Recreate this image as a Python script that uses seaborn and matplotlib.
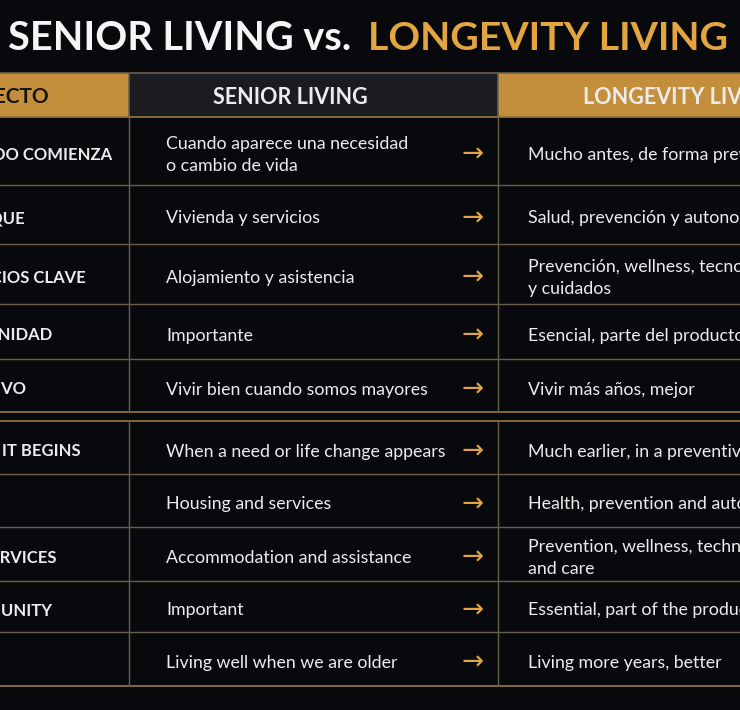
import matplotlib
matplotlib.use("Agg")
import matplotlib.pyplot as plt
from matplotlib.patches import Rectangle
import seaborn as sns

# ---------------- data ----------------
title_left = "SENIOR LIVING vs."
title_right = "LONGEVITY LIVING"
header_aspect = "ASPECTO"
header_senior = "SENIOR LIVING"
header_longevity = "LONGEVITY LIVING"

aspects_es = ["CUANDO COMIENZA", "ENFOQUE", "SERVICIOS CLAVE", "COMUNIDAD", "OBJETIVO"]
senior_es = ["Cuando aparece una necesidad\no cambio de vida", "Vivienda y servicios",
             "Alojamiento y asistencia", "Importante", "Vivir bien cuando somos mayores"]
longevity_es = ["Mucho antes, de forma preventiva", "Salud, prevención y autonomía",
                "Prevención, wellness, tecnología\ny cuidados", "Esencial, parte del producto",
                "Vivir más años, mejor"]

aspects_en = ["WHEN IT BEGINS", "FOCUS", "KEY SERVICES", "COMMUNITY", "GOAL"]
senior_en = ["When a need or life change appears", "Housing and services",
             "Accommodation and assistance", "Important", "Living well when we are older"]
longevity_en = ["Much earlier, in a preventive way", "Health, prevention and autonomy",
                "Prevention, wellness, technology\nand care", "Essential, part of the product",
                "Living more years, better"]

# ---------------- style ----------------
sns.set_theme(style="dark")
plt.rcParams["font.family"] = ["Lato", "DejaVu Sans"]

BG = "#08090d"
GOLD = "#c48f3c"
GOLD_TXT = "#e2a53f"
HEAD_DARK = "#1a1c22"
LINE = "#6a604c"
LINE_GOLD = "#8f713c"
WHITE = "#ececec"

fig = plt.figure(figsize=(7.4, 7.1), dpi=100, facecolor=BG)
ax = fig.add_axes([0, 0, 1, 1])
ax.set_facecolor(BG)
ax.set_xlim(0, 740)
ax.set_ylim(710, 0)
ax.axis("off")

# layout (pixels)
X_LEFT = -60
X_V1 = 129
X_V2 = 498
X_RIGHT = 800
HEAD_TOP, HEAD_BOT = 73, 117
blocks = [
    ([117, 185, 244, 304, 359, 412], aspects_es, senior_es, longevity_es),
    ([421, 474, 527, 581, 632, 686], aspects_en, senior_en, longevity_en),
]

# title
ax.text(8, 39, title_left, color="#f5f5f5", fontsize=28.5, fontweight="bold",
        ha="left", va="center")
ax.text(368, 39, title_right, color=GOLD_TXT, fontsize=28.3, fontweight="bold",
        ha="left", va="center")

# header cells
ax.add_patch(Rectangle((X_LEFT, HEAD_TOP), X_V1 - X_LEFT, HEAD_BOT - HEAD_TOP,
                       facecolor=GOLD, edgecolor="none"))
ax.add_patch(Rectangle((X_V1, HEAD_TOP), X_V2 - X_V1, HEAD_BOT - HEAD_TOP,
                       facecolor=HEAD_DARK, edgecolor="none"))
ax.add_patch(Rectangle((X_V2, HEAD_TOP), X_RIGHT - X_V2, HEAD_BOT - HEAD_TOP,
                       facecolor=GOLD, edgecolor="none"))
ax.hlines(HEAD_TOP, X_LEFT, X_RIGHT, color=LINE, lw=1.2)
ax.vlines([X_V1, X_V2], HEAD_TOP, HEAD_BOT, color=LINE, lw=1.2)
ax.text(-45, (HEAD_TOP + HEAD_BOT) / 2 + 2, header_aspect, color="#141414",
        fontsize=15, fontweight="bold", ha="left", va="center")
ax.text(290, (HEAD_TOP + HEAD_BOT) / 2 + 2, header_senior, color=WHITE,
        fontsize=15.5, fontweight="bold", ha="center", va="center")
ax.text(583, (HEAD_TOP + HEAD_BOT) / 2 + 2, header_longevity, color=WHITE,
        fontsize=15.5, fontweight="bold", ha="left", va="center")

for edges, asp, sen, lon in blocks:
    top, bot = edges[0], edges[-1]
    ax.hlines(edges[1:-1], X_LEFT, X_RIGHT, color=LINE, lw=1.0)
    ax.hlines([top, bot], X_LEFT, X_RIGHT, color=LINE_GOLD, lw=1.3)
    ax.vlines([X_V1, X_V2], top, bot, color=LINE, lw=1.0)
    for i in range(len(asp)):
        yc = (edges[i] + edges[i + 1]) / 2 + 4
        ax.text(X_LEFT + 5, yc, asp[i], color=WHITE, fontsize=12,
                fontweight="bold", ha="left", va="center")
        ax.text(166, yc, sen[i], color=WHITE, fontsize=12.8, ha="left",
                va="center", linespacing=1.4)
        ax.text(473, yc, "→", color=GOLD_TXT, fontsize=19, ha="center",
                va="center", family="DejaVu Sans")
        ax.text(528, yc, lon[i], color=WHITE, fontsize=12.8, ha="left",
                va="center", linespacing=1.4)

fig.savefig("out.png", dpi=100, facecolor=BG)
